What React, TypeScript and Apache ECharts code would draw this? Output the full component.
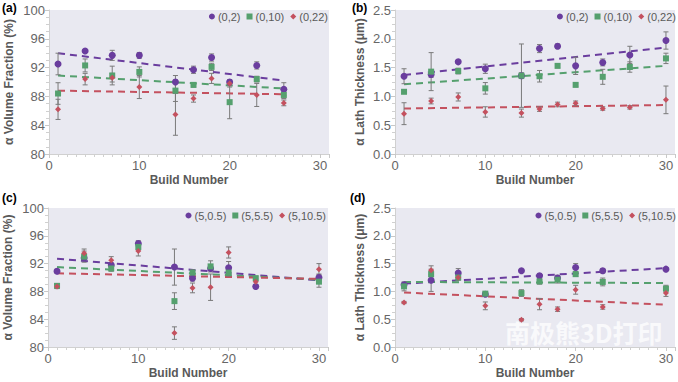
import React, { useEffect, useRef } from "react";
import * as echarts from "echarts";

// ---------- data ----------
const buildA = [1, 4, 7, 10, 14, 16, 18, 20, 23, 26];
const a02 = [92.5, 94.3, 93.7, 93.7, 90.0, 91.7, 93.4, 90.0, 92.3, 89.0];
const a02Err = [1.5, 0.2, 0.7, 0.4, 0.9, 0.5, 0.5, 0.3, 0.5, 0.9];
const a010 = [88.4, 92.3, 90.9, 91.4, 88.8, 89.6, 92.1, 87.2, 90.4, 88.2];
const a010Err = [1.5, 0.9, 1.3, 0.7, 1.5, 0.3, 0.5, 2.3, 0.4, 0.5];
const a022 = [86.2, 90.4, 90.6, 89.3, 85.5, 87.7, 90.5, 89.8, 88.2, 87.1];
const a022Err = [1.4, 0.8, 0.6, 1.6, 2.9, 0.5, 0.7, 0.5, 1.6, 0.4];
const trendA = [
  [[1, 94.0], [26, 90.2]],
  [[1, 90.9], [26, 89.1]],
  [[1, 88.8], [26, 88.3]],
];

const buildB = [1, 4, 7, 10, 14, 16, 18, 20, 23, 26, 30];
const b02 = [1.35, 1.38, 1.6, 1.48, 1.36, 1.83, 1.87, 1.53, 1.59, 1.72, 1.97];
const b02Err = [0.13, 0.05, 0.03, 0.08, 0.05, 0.07, 0.04, 0.15, 0.06, 0.15, 0.15];
const b010 = [1.08, 1.43, 1.44, 1.14, 1.36, 1.35, 1.53, 1.2, 1.34, 1.51, 1.66];
const b010Err = [0.03, 0.33, 0.05, 0.1, 0.55, 0.1, 0.03, 0.03, 0.13, 0.09, 0.09];
const b022 = [0.7, 0.92, 0.99, 0.73, 0.71, 0.78, 0.86, 0.88, 0.79, 0.81, 0.94];
const b022Err = [0.19, 0.05, 0.07, 0.09, 0.07, 0.04, 0.04, 0.04, 0.03, 0.03, 0.24];
const trendB = [
  [[1, 1.37], [30, 1.85]],
  [[1, 1.21], [30, 1.53]],
  [[1, 0.79], [30, 0.85]],
];

const buildC = [1, 4, 7, 10, 14, 16, 18, 20, 23, 30];
const c05 = [90.9, 92.8, 91.8, 94.9, 91.5, 89.9, 91.3, 91.4, 88.7, 90.0];
const c05Err = [0.3, 0.3, 0.3, 0.4, 2.6, 0.4, 0.3, 0.9, 0.3, 0.5];
const c55 = [88.8, 93.0, 91.3, 94.4, 86.6, 90.7, 91.6, 90.7, 89.9, 89.4];
const c55Err = [0.3, 0.8, 0.4, 0.4, 1.2, 0.4, 0.8, 0.5, 0.3, 0.8];
const c105 = [88.7, 93.5, 92.5, 93.8, 82.0, 88.5, 88.6, 93.6, 89.4, 91.2];
const c105Err = [0.3, 0.6, 0.5, 0.7, 0.9, 0.7, 1.9, 0.8, 0.5, 0.8];
const trendC = [
  [[1, 92.7], [30, 89.6]],
  [[1, 91.5], [30, 89.7]],
  [[1, 90.6], [30, 89.8]],
];

const buildD = [1, 4, 7, 10, 14, 16, 18, 20, 23, 30];
const d05 = [1.12, 1.2, 1.33, 0.95, 1.37, 1.28, 1.24, 1.43, 1.37, 1.4];
const d05Err = [0.03, 0.2, 0.08, 0.03, 0.02, 0.04, 0.05, 0.07, 0.04, 0.02];
const d55 = [1.09, 1.31, 1.25, 0.96, 0.97, 1.18, 1.21, 1.31, 1.17, 1.05];
const d55Err = [0.08, 0.05, 0.05, 0.03, 0.06, 0.05, 0.06, 0.04, 0.07, 0.06];
const d105 = [0.8, 1.38, 1.25, 0.74, 0.49, 0.77, 0.68, 1.03, 0.72, 0.97];
const d105Err = [0.02, 0.08, 0.04, 0.07, 0.02, 0.1, 0.04, 0.08, 0.04, 0.06];
const trendD = [
  [[1, 1.14], [30, 1.42]],
  [[1, 1.17], [30, 1.15]],
  [[1, 0.98], [30, 0.76]],
];

const namesAB = ["(0,2)", "(0,10)", "(0,22)"];
const namesCD = ["(5,0.5)", "(5,5.5)", "(5,10.5)"];
const panelLabels = ["(a)", "(b)", "(c)", "(d)"];
const yTitles = ["α Volume Fraction (%)", "α Lath Thickness (μm)", "α Volume Fraction (%)", "α Lath Thickness (μm)"];
const xTitle = "Build Number";
const watermark = "南极熊3D打印";

// ---------- styles ----------
const COLORS = ["#6a3d9e", "#55a06e", "#c4515f"];
const SYMBOLS = ["circle", "rect", "diamond"];
const SIZES = [7, 6, 6];
const TXT = "#595959";
const FONT = "Liberation Sans, Arial, sans-serif";

const panels = [
  { x: buildA, vals: [a02, a010, a022], errs: [a02Err, a010Err, a022Err], trend: trendA, names: namesAB, pct: true },
  { x: buildB, vals: [b02, b010, b022], errs: [b02Err, b010Err, b022Err], trend: trendB, names: namesAB, pct: false },
  { x: buildC, vals: [c05, c55, c105], errs: [c05Err, c55Err, c105Err], trend: trendC, names: namesCD, pct: true },
  { x: buildD, vals: [d05, d55, d105], errs: [d05Err, d55Err, d105Err], trend: trendD, names: namesCD, pct: false },
];

const grids = [
  { left: 49, top: 10, width: 280, height: 144 },
  { left: 395, top: 10, width: 283, height: 144 },
  { left: 48, top: 208, width: 280, height: 139 },
  { left: 395, top: 208, width: 283, height: 139 },
];
const legendPos = [
  { right: 350, top: 11 },
  { right: 2, top: 11 },
  { right: 352, top: 210 },
  { right: 2, top: 210 },
];
const labelPos = [
  { left: 2, top: 2 },
  { left: 352, top: 2 },
  { left: 2, top: 192 },
  { left: 350, top: 192 },
];

function errRender(params: any, api: any) {
  const x = api.value(0);
  const lo = api.value(1);
  const hi = api.value(2);
  const p1 = api.coord([x, hi]);
  const p2 = api.coord([x, lo]);
  const style = { stroke: "#7a7a7a", lineWidth: 1 };
  return {
    type: "group",
    children: [
      { type: "line", shape: { x1: p1[0], y1: p1[1], x2: p2[0], y2: p2[1] }, style },
      { type: "line", shape: { x1: p1[0] - 2.5, y1: p1[1], x2: p1[0] + 2.5, y2: p1[1] }, style },
      { type: "line", shape: { x1: p2[0] - 2.5, y1: p2[1], x2: p2[0] + 2.5, y2: p2[1] }, style },
    ],
  };
}

export default function App() {
  const ref = useRef<HTMLDivElement>(null);
  useEffect(() => {
    document.body.style.margin = "0";
    const chart = echarts.init(ref.current!, undefined, { renderer: "svg" });
    const axisLine = { show: true, lineStyle: { color: "#d0d0d0" } };
    const xAxis: any[] = [];
    const yAxis: any[] = [];
    const series: any[] = [];
    const legend: any[] = [];
    panels.forEach((p, i) => {
      xAxis.push({
        gridIndex: i,
        type: "value",
        min: 0,
        max: 31,
        interval: 10,
        name: xTitle,
        nameLocation: "middle",
        nameGap: 20,
        nameTextStyle: { color: TXT, fontWeight: "bold", fontSize: 12, fontFamily: FONT },
        axisLine,
        axisTick: { show: true, length: 4, lineStyle: { color: "#c8c8c8" } },
        minorTick: { show: true, splitNumber: 10, length: 3, lineStyle: { color: "#d0d0d0" } },
        splitLine: { show: false },
        axisLabel: {
          color: "#666",
          fontSize: 13,
          fontFamily: FONT,
          margin: 5,
          formatter: (v: number) => (v % 10 === 0 && v <= 30 ? String(v) : ""),
        },
      });
      yAxis.push({
        gridIndex: i,
        type: "value",
        min: p.pct ? 80 : 0,
        max: p.pct ? 100 : 2.5,
        interval: p.pct ? 4 : 0.5,
        name: yTitles[i],
        nameLocation: "middle",
        nameGap: p.pct ? 34 : 29,
        nameTextStyle: { color: TXT, fontWeight: "bold", fontSize: 12, fontFamily: FONT },
        axisLine,
        axisTick: { show: true, length: 4, lineStyle: { color: "#c8c8c8" } },
        minorTick: { show: true, splitNumber: 4, length: 3, lineStyle: { color: "#d0d0d0" } },
        splitLine: { show: false },
        axisLabel: {
          color: "#666",
          fontSize: 13,
          fontFamily: FONT,
          margin: 4,
          formatter: (v: number) => (p.pct ? String(v) : v.toFixed(1)),
        },
      });
      legend.push({
        ...legendPos[i],
        data: p.names,
        orient: "horizontal",
        itemWidth: 6,
        itemHeight: 6,
        itemGap: 6,
        padding: 0,
        textStyle: { color: TXT, fontSize: 11, fontFamily: FONT, padding: [0, 0, 0, -2] },
      });
      p.trend.forEach((t, k) => {
        series.push({
          type: "line",
          name: p.names[k] + " trend",
          xAxisIndex: i,
          yAxisIndex: i,
          data: t,
          symbol: "none",
          silent: true,
          z: 1,
          lineStyle: { color: COLORS[k], width: 2, type: [7, 5] },
        });
      });
      p.vals.forEach((vals, k) => {
        series.push({
          type: "custom",
          xAxisIndex: i,
          yAxisIndex: i,
          renderItem: errRender,
          encode: { x: 0, y: [1, 2] },
          z: 2,
          data: p.x.map((x, j) => [x, vals[j] - p.errs[k][j], vals[j] + p.errs[k][j]]),
        });
      });
      p.vals.forEach((vals, k) => {
        series.push({
          type: "scatter",
          name: p.names[k],
          xAxisIndex: i,
          yAxisIndex: i,
          symbol: SYMBOLS[k],
          symbolSize: SIZES[k],
          z: 3,
          itemStyle: { color: COLORS[k], opacity: 1 },
          data: p.x.map((x, j) => [x, vals[j]]),
        });
      });
    });
    const graphic: any[] = panelLabels.map((t, i) => ({
      type: "text",
      ...labelPos[i],
      style: { text: t, fill: "#000", font: "bold 12px " + FONT },
    }));
    graphic.push({
      type: "text",
      left: 505,
      top: 319,
      z: 100,
      style: { text: watermark, fill: "rgba(255,255,255,0.75)", font: "bold 25px 'Noto Sans CJK SC', sans-serif" },
    });
    chart.setOption({
      animation: false,
      backgroundColor: "#ffffff",
      grid: grids.map((g) => ({ ...g, show: true, backgroundColor: "#e9e9f1", borderWidth: 0 })),
      xAxis,
      yAxis,
      legend,
      series,
      graphic,
    });
    return () => chart.dispose();
  }, []);
  return <div ref={ref} style={{ width: 678, height: 382, position: "fixed", left: 0, top: 0 }} />;
}
